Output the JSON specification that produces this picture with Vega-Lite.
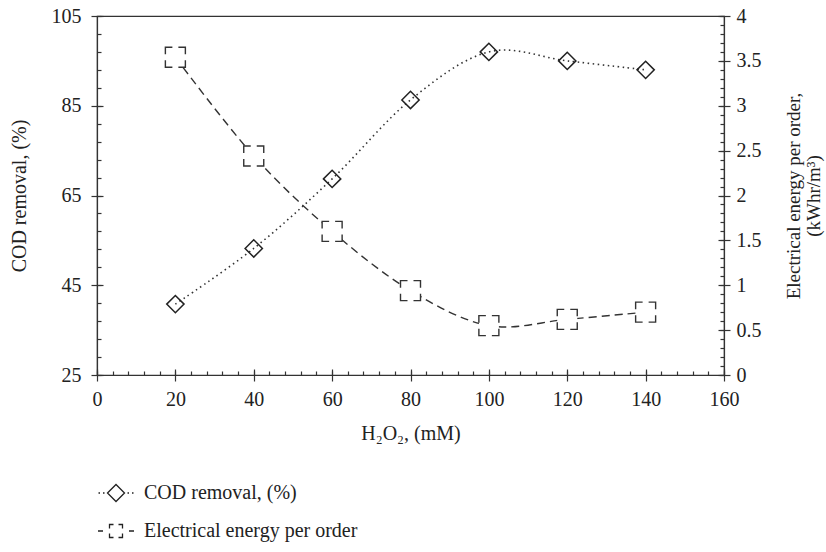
{
  "$schema": "https://vega.github.io/schema/vega-lite/v6.json",
  "width": 627,
  "height": 359,
  "autosize": "none",
  "padding": {"left": 97, "top": 16, "right": 102, "bottom": 177},
  "background": "white",
  "config": {
    "font": "Liberation Serif",
    "view": {"stroke": "#333", "strokeWidth": 1.2},
    "axis": {
      "domainColor": "#333",
      "domainWidth": 1.2,
      "tickColor": "#333",
      "tickWidth": 1.2,
      "labelFont": "Liberation Serif",
      "labelFontSize": 20,
      "labelColor": "#222",
      "titleFont": "Liberation Serif",
      "titleFontSize": 20,
      "titleFontWeight": "normal",
      "titleColor": "#222",
      "grid": false,
      "labelFlush": false,
      "labelOverlap": false
    },
    "legend": {
      "labelFont": "Liberation Serif",
      "labelFontSize": 20,
      "labelColor": "#222",
      "labelLimit": 400
    }
  },
  "data": {
    "values": [
      {"h2o2": 20, "cod": 40.8, "ee": 3.54},
      {"h2o2": 40, "cod": 53.2, "ee": 2.44},
      {"h2o2": 60, "cod": 68.7, "ee": 1.60},
      {"h2o2": 80, "cod": 86.3, "ee": 0.94},
      {"h2o2": 100, "cod": 97.0, "ee": 0.55},
      {"h2o2": 120, "cod": 95.0, "ee": 0.62},
      {"h2o2": 140, "cod": 93.0, "ee": 0.70}
    ]
  },
  "layer": [
    {
      "mark": {"type": "line", "interpolate": "cardinal", "stroke": "#333", "strokeWidth": 1.6, "strokeDash": [1.5, 3.5]},
      "encoding": {
        "x": {"field": "h2o2", "type": "quantitative", "scale": {"domain": [0, 160], "nice": false},
          "axis": {"orient": "bottom", "values": [0, 20, 40, 60, 80, 100, 120, 140, 160], "tickSize": 6, "labelPadding": 8, "title": "H₂O₂, (mM)", "titlePadding": 14}},
        "y": {"field": "cod", "type": "quantitative", "scale": {"domain": [25, 105], "nice": false, "zero": false},
          "axis": {"orient": "left", "values": [25, 45, 65, 85, 105], "tickSize": 6, "labelPadding": 10, "title": "COD removal, (%)", "titlePadding": 22}}
      }
    },
    {
      "mark": {"type": "point", "shape": "diamond", "size": 300, "filled": false, "stroke": "#222", "strokeWidth": 1.5, "opacity": 1},
      "encoding": {
        "x": {"field": "h2o2", "type": "quantitative", "scale": {"domain": [0, 160], "nice": false},
          "axis": {"orient": "bottom", "values": [0, 20, 40, 60, 80, 100, 120, 140, 160], "tickSize": -6, "labels": false, "domain": false, "title": null}},
        "y": {"field": "cod", "type": "quantitative", "scale": {"domain": [25, 105], "nice": false, "zero": false},
          "axis": {"orient": "left", "values": [25, 45, 65, 85, 105], "tickSize": -6, "labels": false, "domain": false, "title": null}}
      }
    },
    {
      "mark": {"type": "line", "interpolate": "cardinal", "stroke": "#333", "strokeWidth": 1.4, "strokeDash": [8, 5]},
      "encoding": {
        "x": {"field": "h2o2", "type": "quantitative", "scale": {"domain": [0, 160], "nice": false},
          "axis": {"orient": "bottom", "values": [0, 4, 8, 12, 16, 20, 24, 28, 32, 36, 40, 44, 48, 52, 56, 60, 64, 68, 72, 76, 80, 84, 88, 92, 96, 100, 104, 108, 112, 116, 120, 124, 128, 132, 136, 140, 144, 148, 152, 156, 160], "tickSize": -4, "labels": false, "domain": false, "title": null}},
        "y": {"field": "ee", "type": "quantitative", "scale": {"domain": [0, 4], "nice": false},
          "axis": {"orient": "right", "values": [0, 0.5, 1, 1.5, 2, 2.5, 3, 3.5, 4], "format": "~g", "tickSize": 6, "labelPadding": 6, "title": ["Electrical energy per order,", "(kWhr/m³)"], "titleAngle": -90, "titlePadding": 22, "titleFontSize": 19, "titleLineHeight": 20}}
      }
    },
    {
      "mark": {"type": "point", "shape": "square", "size": 400, "filled": true, "fill": "white", "stroke": "#333", "strokeWidth": 1.4, "strokeDash": [14, 6], "strokeDashOffset": 7, "opacity": 1},
      "encoding": {
        "x": {"field": "h2o2", "type": "quantitative", "scale": {"domain": [0, 160], "nice": false}, "axis": null},
        "y": {"field": "ee", "type": "quantitative", "scale": {"domain": [0, 4], "nice": false},
          "axis": {"orient": "right", "values": [0, 0.5, 1, 1.5, 2, 2.5, 3, 3.5, 4], "tickSize": -6, "labels": false, "domain": false, "title": null}}
      }
    },
    {
      "mark": {"type": "point", "opacity": 0},
      "encoding": {
        "x": {"field": "h2o2", "type": "quantitative", "scale": {"domain": [0, 160], "nice": false}, "axis": null},
        "y": {"field": "cod", "type": "quantitative", "scale": {"domain": [25, 105], "nice": false, "zero": false},
          "axis": {"orient": "left", "values": [25, 29, 33, 37, 41, 45, 49, 53, 57, 61, 65, 69, 73, 77, 81, 85, 89, 93, 97, 101, 105], "tickSize": -4, "labels": false, "domain": false, "title": null}}
      }
    },
    {
      "mark": {"type": "point", "opacity": 0},
      "encoding": {
        "x": {"field": "h2o2", "type": "quantitative", "scale": {"domain": [0, 160], "nice": false}, "axis": null},
        "y": {"field": "ee", "type": "quantitative", "scale": {"domain": [0, 4], "nice": false},
          "axis": {"orient": "right", "values": [0, 0.1, 0.2, 0.3, 0.4, 0.5, 0.6, 0.7, 0.8, 0.9, 1, 1.1, 1.2, 1.3, 1.4, 1.5, 1.6, 1.7, 1.8, 1.9, 2, 2.1, 2.2, 2.3, 2.4, 2.5, 2.6, 2.7, 2.8, 2.9, 3, 3.1, 3.2, 3.3, 3.4, 3.5, 3.6, 3.7, 3.8, 3.9, 4], "tickSize": -4, "labels": false, "domain": false, "title": null}}
      }
    },
    {
      "data": {"values": [{"series": "COD removal, (%)"}, {"series": "Electrical energy per order"}]},
      "transform": [{"filter": "datum.series == 'none'"}],
      "mark": {"type": "point", "filled": false, "stroke": "#222", "strokeWidth": 1.3},
      "encoding": {
        "shape": {"field": "series", "type": "nominal",
          "scale": {"domain": ["COD removal, (%)", "Electrical energy per order"],
            "range": ["M-3.5,0h0.3M-2.6,0h0.3M2.3,0h0.3M3.2,0h0.3M-1.7,0L0,-1.7L1.7,0L0,1.7Z", "M-3.6,0H-2.6M2.6,0H3.6M-1.3,-0.5V-1.3H-0.5M0.5,-1.3H1.3V-0.5M1.3,0.5V1.3H0.5M-0.5,1.3H-1.3V0.5"]},
          "legend": {"orient": "none", "legendX": -4, "legendY": 467, "title": null, "direction": "vertical", "symbolSize": 100, "symbolStrokeColor": "#222", "symbolFillColor": "transparent", "symbolStrokeWidth": 1.3, "symbolOpacity": 1, "symbolOffset": 13, "labelOffset": 18, "labelLimit": 400, "rowPadding": 16, "padding": 0}}
      }
    }
  ],
  "resolve": {
    "scale": {"y": "independent"},
    "axis": {"x": "independent", "y": "independent"}
  }
}
